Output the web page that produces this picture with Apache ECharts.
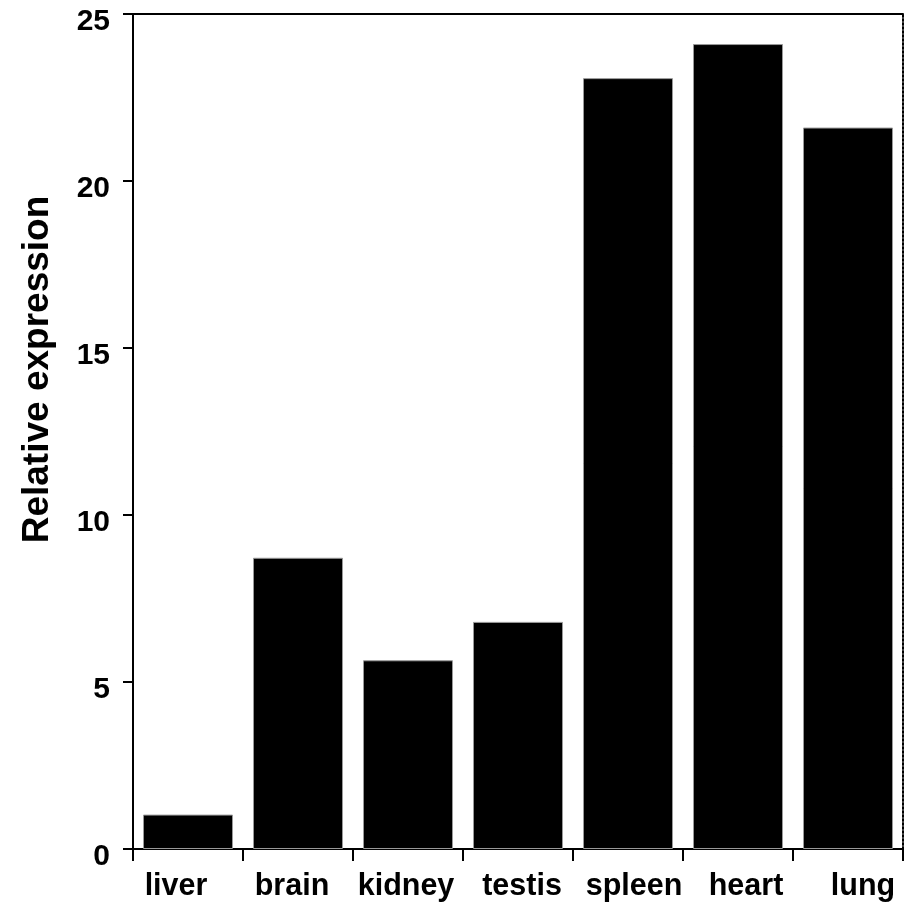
<!DOCTYPE html>
<html>
<head>
<meta charset="utf-8">
<script src="https://cdn.jsdelivr.net/npm/echarts@6/dist/echarts.min.js"></script>
<style>
html,body{margin:0;padding:0;background:#fff;}
#chart{width:920px;height:908px;}
</style>
</head>
<body>
<div id="chart"></div>
<script>
var categories = ['liver', 'brain', 'kidney', 'testis', 'spleen', 'heart', 'lung'];
var values = [1.03, 8.72, 5.65, 6.8, 23.08, 24.1, 21.6];
var yAxisTitle = 'Relative expression';

// horizontal nudges of the category labels (px), as in the reference
var labelNudge = [-12, -6, -2, 4, 6, 8, 15];

var FONT = '"Liberation Sans", Arial, Helvetica, sans-serif';
var catData = categories.map(function (c, i) {
  var s = labelNudge[i];
  return {
    value: c,
    textStyle: {padding: s >= 0 ? [0, 0, 0, 2 * s] : [0, -2 * s, 0, 0]}
  };
});

var chart = echarts.init(document.getElementById('chart'), null, {renderer: 'canvas'});
chart.setOption({
  animation: false,
  backgroundColor: '#fff',
  grid: {left: 133, right: 17, top: 14, bottom: 59},
  xAxis: [{
    type: 'category',
    data: catData,
    boundaryGap: true,
    axisLine: {show: true, onZero: false, lineStyle: {color: '#000', width: 2}},
    axisTick: {show: true, length: 12, lineStyle: {color: '#000', width: 2}, alignWithLabel: false},
    axisLabel: {color: '#000', fontSize: 30.5, fontWeight: 'bold', fontFamily: FONT, margin: 22, interval: 0},
    splitLine: {show: false}
  }, {
    type: 'category',
    data: categories,
    position: 'top',
    axisLine: {show: true, onZero: false, lineStyle: {color: '#000', width: 2}},
    axisTick: {show: false},
    axisLabel: {show: false},
    splitLine: {show: false}
  }],
  yAxis: [{
    type: 'value',
    min: 0, max: 25, interval: 5,
    axisLine: {show: true, onZero: false, lineStyle: {color: '#000', width: 2}},
    axisTick: {show: true, length: 10, lineStyle: {color: '#000', width: 2}},
    axisLabel: {color: '#000', fontSize: 30, fontWeight: 'bold', fontFamily: FONT, margin: 23, verticalAlign: 'top', lineHeight: 15},
    splitLine: {show: false}
  }, {
    type: 'value',
    min: 0, max: 25, interval: 5,
    position: 'right',
    axisLine: {show: true, onZero: false, lineStyle: {color: '#000', width: 2, type: 'dotted'}},
    axisTick: {show: false},
    axisLabel: {show: false},
    splitLine: {show: false}
  }],
  graphic: [{
    type: 'text',
    x: 37.5,
    y: 369.5,
    rotation: Math.PI / 2,
    style: {
      text: yAxisTitle,
      fill: '#000',
      font: 'bold 37px ' + FONT,
      textAlign: 'center',
      textVerticalAlign: 'middle'
    }
  }],
  series: [{
    type: 'bar',
    data: values,
    xAxisIndex: 0,
    yAxisIndex: 0,
    barWidth: 90,
    itemStyle: {color: '#000', borderColor: '#999', borderWidth: 1}
  }]
});
</script>
</body>
</html>
